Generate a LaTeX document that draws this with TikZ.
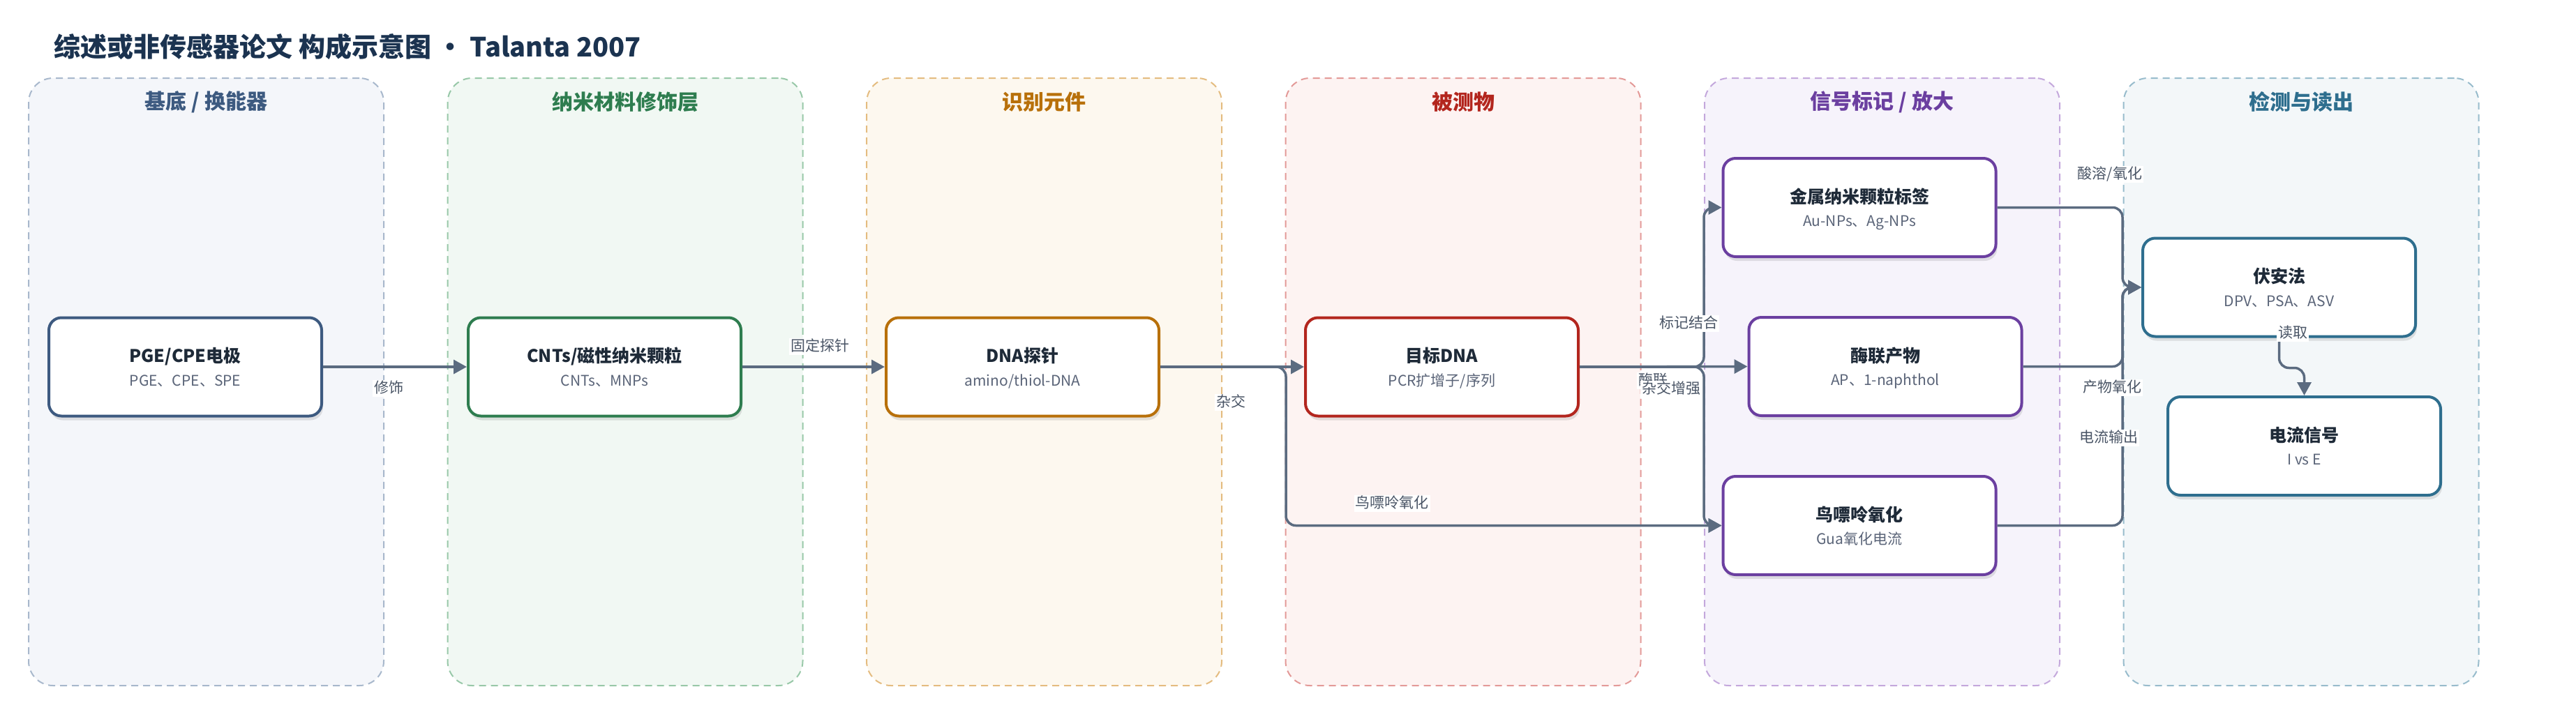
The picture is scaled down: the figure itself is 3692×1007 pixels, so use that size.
\documentclass[tikz,border=0pt]{standalone}
\usepackage{fontspec}
\setmainfont{Noto Sans CJK SC}
\usetikzlibrary{arrows.meta,shadows,calc}
\definecolor{titlec}{HTML}{1B3350}
\definecolor{edgec}{HTML}{5B6B80}
\definecolor{lblc}{HTML}{4A5566}
\definecolor{btxt}{HTML}{1E2A38}
\definecolor{bsub}{HTML}{5A6478}
\definecolor{fA}{HTML}{F4F6FA}\definecolor{dA}{HTML}{A8B8CC}\definecolor{tA}{HTML}{3D5A80}
\definecolor{fB}{HTML}{F1F8F3}\definecolor{dB}{HTML}{98C8A8}\definecolor{tB}{HTML}{2E7D4F}
\definecolor{fC}{HTML}{FDF8EF}\definecolor{dC}{HTML}{E4BC80}\definecolor{tC}{HTML}{B8700A}
\definecolor{fD}{HTML}{FDF3F2}\definecolor{dD}{HTML}{E39A98}\definecolor{tD}{HTML}{B3261E}
\definecolor{fE}{HTML}{F6F3FB}\definecolor{dE}{HTML}{C4A8DC}\definecolor{tE}{HTML}{6B3FA0}
\definecolor{fF}{HTML}{F3F7F9}\definecolor{dF}{HTML}{98BCCC}\definecolor{tF}{HTML}{2E6E8E}
\newcommand{\mybox}[6]{%
  \node[bx, draw=#4] (#1) at (#2,#3) {};
  \node[bxt] (#1t) at ([yshift=6.25pt]#1.center) {#5};
  \node[bxs] (#1s) at ([yshift=-10.5pt]#1.center) {#6};
}
\begin{document}
\begin{tikzpicture}[x=0.5pt,y=-0.5pt,
  lane/.style={rounded corners=17.5pt, line width=1pt, dash pattern=on 5pt off 3.5pt,
     minimum width=254.5pt, minimum height=435.5pt, inner sep=0pt},
  lanetitle/.style={font=\fontsize{15}{18}\selectfont\bfseries, inner sep=0pt},
  bx/.style={rounded corners=9pt, line width=2pt, fill=white, minimum width=195.5pt,
     minimum height=70.5pt, inner sep=0pt,
     drop shadow={shadow xshift=1pt, shadow yshift=-3pt, fill=black, opacity=0.10}},
  bxt/.style={font=\fontsize{12.5}{15}\selectfont\bfseries, text=btxt, inner sep=0pt,
     text height=0.8em, text depth=0.2em},
  bxs/.style={font=\fontsize{10.5}{13}\selectfont, text=bsub, inner sep=0pt,
     text height=0.8em, text depth=0.2em},
  arr/.style={draw=edgec, line width=1.75pt, rounded corners=7pt,
     -{Triangle[length=9.5pt,width=10pt]}},
  lbl/.style={font=\fontsize{10.5}{13}\selectfont, text=lblc, fill=white, inner sep=1pt,
     text height=0.8em, text depth=0.2em}
]
\path[use as bounding box] (0,0) rectangle (3692,1007);

% title
\node[anchor=west, inner sep=0pt, text=titlec, font=\fontsize{19}{22}\selectfont\bfseries,
  text height=0.8em, text depth=0.2em] (title) at (77,75.5) {综述或非传感器论文 构成示意图 • Talanta 2007};

% lanes
\node[lane, fill=fA, draw=dA] (L1) at (295.5,547.5) {};
\node[lane, fill=fB, draw=dB] (L2) at (896,547.5) {};
\node[lane, fill=fC, draw=dC] (L3) at (1496.5,547.5) {};
\node[lane, fill=fD, draw=dD] (L4) at (2097,547.5) {};
\node[lane, fill=fE, draw=dE] (L5) at (2697.5,547.5) {};
\node[lane, fill=fF, draw=dF] (L6) at (3298,547.5) {};
\node[lanetitle, text=tA] (T1) at (295.5,146) {基底 / 换能器};
\node[lanetitle, text=tB] (T2) at (896,146) {纳米材料修饰层};
\node[lanetitle, text=tC] (T3) at (1496.5,146) {识别元件};
\node[lanetitle, text=tD] (T4) at (2097,146) {被测物};
\node[lanetitle, text=tE] (T5) at (2697.5,146) {信号标记 / 放大};
\node[lanetitle, text=tF] (T6) at (3298,146) {检测与读出};

% boxes
\mybox{b1}{265.5}{526}{tA}{PGE/CPE电极}{PGE、CPE、SPE}
\mybox{b2}{866.5}{526}{tB}{CNTs/磁性纳米颗粒}{CNTs、MNPs}
\mybox{b3}{1465.5}{526}{tC}{DNA探针}{amino/thiol-DNA}
\mybox{b4}{2066.5}{526}{tD}{目标DNA}{PCR扩增子/序列}
\mybox{metal}{2665}{297.5}{tE}{金属纳米颗粒标签}{Au-NPs、Ag-NPs}
\mybox{enz}{2702}{525.5}{tE}{酶联产物}{AP、1-naphthol}
\mybox{gua}{2665}{753.5}{tE}{鸟嘌呤氧化}{Gua氧化电流}
\mybox{volt}{3266.5}{412}{tF}{伏安法}{DPV、PSA、ASV}
\mybox{cur}{3302.5}{639.5}{tF}{电流信号}{I vs E}

% junction coordinates
\coordinate (j4) at (1843,526);
\coordinate (j5) at (2442,526);
\coordinate (j6) at (3042,412);

% connectors
\draw[arr] (b1.east) -- (b2.west);
\draw[arr] (b2.east) -- (b3.west);
\draw[arr] (b3.east) -- (b4.west);
\draw[arr] (b3.east) -- (j4) |- (gua.west);
\draw[arr] (b4.east) -- (j5) |- (metal.west);
\draw[arr] (b4.east) -- (enz.west);
\draw[arr] (b4.east) -- (j5) |- (gua.west);
\draw[arr] (metal.east) -| (j6) -- (volt.west);
\draw[arr] (enz.east) -| (j6) -- (volt.west);
\draw[arr] (gua.east) -| (j6) -- (volt.west);
\draw[arr] (volt.south) -- ++(0,43) -| (cur.north);

% labels
\node[lbl] (l1) at (557,557) {修饰};
\node[lbl] (l2) at (1175,497) {固定探针};
\node[lbl] (l3) at (1764,577) {杂交};
\node[lbl] (l4) at (1995,722) {鸟嘌呤氧化};
\node[lbl] (l5) at (2420,464) {标记结合};
\node[lbl] (l6) at (2369,546) {酶联};
\node[lbl] (l7) at (2395,558) {杂交增强};
\node[lbl] (l8) at (3024,250) {酸溶/氧化};
\node[lbl] (l9) at (3027,556) {产物氧化};
\node[lbl] (l10) at (3022,628) {电流输出};
\node[lbl] (l11) at (3286,478) {读取};
\end{tikzpicture}
\end{document}
